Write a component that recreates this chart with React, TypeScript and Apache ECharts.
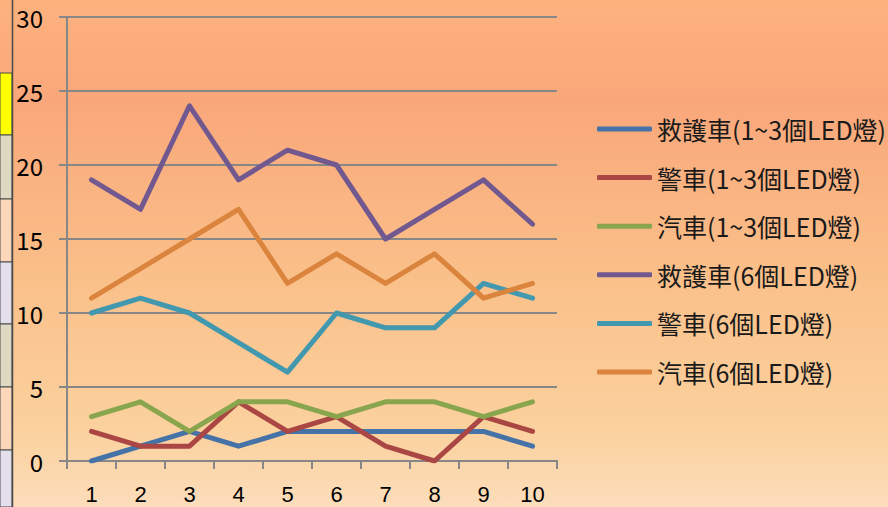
import React, { useEffect, useRef } from "react";
import * as echarts from "echarts";

// x categories (trial number)
const categories = ["1", "2", "3", "4", "5", "6", "7", "8", "9", "10"];

// series names
const seriesNames = [
  "救護車(1~3個LED燈)",
  "警車(1~3個LED燈)",
  "汽車(1~3個LED燈)",
  "救護車(6個LED燈)",
  "警車(6個LED燈)",
  "汽車(6個LED燈)",
];

// series values
const ambulance13 = [0, 1, 2, 1, 2, 2, 2, 2, 2, 1];
const police13 = [2, 1, 1, 4, 2, 3, 1, 0, 3, 2];
const car13 = [3, 4, 2, 4, 4, 3, 4, 4, 3, 4];
const ambulance6 = [19, 17, 24, 19, 21, 20, 15, 17, 19, 16];
const police6 = [10, 11, 10, 8, 6, 10, 9, 9, 12, 11];
const car6 = [11, 13, 15, 17, 12, 14, 12, 14, 11, 12];

const seriesValues = [ambulance13, police13, car13, ambulance6, police6, car6];
const seriesColors = ["#4572A7", "#AA4643", "#89A54E", "#71588F", "#4198AF", "#DB843D"];

// y axis range
const yMin = 0;
const yMax = 30;
const yStep = 5;

// spreadsheet cells peeking out on the left edge
const cellColors = ["#FFFF00", "#DDD9C3", "#FCD7BA", "#E4DFEC", "#DDD9C3", "#FCD7BA", "#E4DFEC"];
const cellEdges = [73, 135, 199, 262, 324, 387, 450, 507];

const FONT = "'Noto Sans CJK TC', 'Noto Sans', sans-serif";
const TICK_FONT = "'Liberation Sans', Arial, sans-serif";
const GRID_COLOR = "#878787";

export default function App() {
  const ref = useRef<HTMLDivElement>(null);

  useEffect(() => {
    if (!ref.current) return;
    const chart = echarts.init(ref.current, undefined, { renderer: "svg" });

    const cells: any[] = cellColors.map((c, i) => ({
      type: "rect",
      shape: { x: 0, y: cellEdges[i], width: 12, height: cellEdges[i + 1] - cellEdges[i] },
      style: { fill: c, stroke: "#4a4a4a", lineWidth: 1 },
      z: 10,
    }));
    cells.push({
      type: "line",
      shape: { x1: 12.5, y1: 0, x2: 12.5, y2: 507 },
      style: { stroke: "#4a4a4a", lineWidth: 1.5 },
      z: 11,
    });

    chart.setOption({
      animation: false,
      backgroundColor: {
        type: "linear",
        x: 0,
        y: 0,
        x2: 0,
        y2: 1,
        colorStops: [
          { offset: 0, color: "#FDB27E" },
          { offset: 0.2, color: "#F9A77A" },
          { offset: 0.55, color: "#FAC08A" },
          { offset: 0.85, color: "#FBD19E" },
          { offset: 1, color: "#FCDDBB" },
        ],
      },
      grid: { left: 67, right: 331, top: 17, bottom: 46, containLabel: false },
      legend: {
        orient: "vertical",
        left: 597,
        top: 116,
        padding: 0,
        icon: "roundRect",
        itemWidth: 55,
        itemHeight: 5,
        itemGap: 22.6,
        textStyle: { fontFamily: FONT, fontSize: 25, color: "#1a1a1a", lineHeight: 26 },
        data: seriesNames,
      },
      xAxis: {
        type: "category",
        data: categories,
        boundaryGap: true,
        axisLine: { show: true, lineStyle: { color: GRID_COLOR, width: 2 } },
        axisTick: { show: true, length: 8, lineStyle: { color: GRID_COLOR, width: 2 } },
        axisLabel: { fontFamily: TICK_FONT, fontSize: 22, color: "#000", margin: 22, lineHeight: 22 },
        splitLine: { show: false },
      },
      yAxis: {
        type: "value",
        min: yMin,
        max: yMax,
        interval: yStep,
        axisLine: { show: true, lineStyle: { color: GRID_COLOR, width: 2 } },
        axisTick: { show: true, length: 8, lineStyle: { color: GRID_COLOR, width: 2 } },
        axisLabel: { fontFamily: FONT, fontSize: 24, color: "#000", margin: 24 },
        splitLine: { show: true, lineStyle: { color: GRID_COLOR, width: 2 } },
      },
      series: seriesNames.map((name, i) => ({
        name,
        type: "line",
        data: seriesValues[i],
        symbol: "none",
        showSymbol: false,
        color: seriesColors[i],
        lineStyle: { width: 5, color: seriesColors[i], cap: "round", join: "round" },
      })),
      graphic: cells,
    });

    return () => chart.dispose();
  }, []);

  return (
    <div
      ref={ref}
      style={{ position: "fixed", left: 0, top: 0, width: 888, height: 507 }}
    />
  );
}
